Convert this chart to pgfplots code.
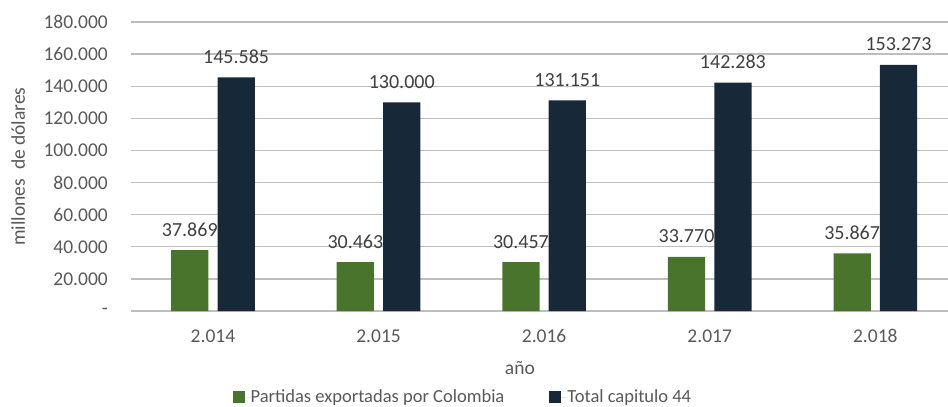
\documentclass[border=0pt]{standalone}
\usepackage{fontspec}
\setmainfont{Carlito}
\usepackage{pgfplots}
\pgfplotsset{compat=1.18}
\definecolor{cgreen}{RGB}{72,116,44}
\definecolor{cnavy}{RGB}{23,40,56}
\definecolor{cgrid}{RGB}{190,190,190}
\definecolor{ctext}{RGB}{89,89,89}
\definecolor{clabel}{RGB}{64,64,64}
\begin{document}
\begin{tikzpicture}
\path[use as bounding box] (0,0) rectangle (948pt,407pt);
\begin{axis}[
  at={(131pt,96pt)}, anchor=south west,
  scale only axis, width=817pt, height=289pt,
  xmin=-0.495, xmax=4.439, ymin=0, ymax=180000,
  scaled y ticks=false,
  /pgf/number format/assume math mode=true,
  font=\fontsize{19.5}{23}\selectfont,
  axis x line*=bottom, axis y line*=left,
  y axis line style={draw=none},
  x axis line style={draw=cgrid, line width=1.3pt},
  ymajorgrids, grid style={draw=cgrid, line width=1.3pt},
  major tick length=0pt,
  xtick={0,1,2,3,4},
  xticklabels={2.014,2.015,2.016,2.017,2.018},
  ytick={0,20000,40000,60000,80000,100000,120000,140000,160000,180000},
  yticklabels={-,20.000,40.000,60.000,80.000,100.000,120.000,140.000,160.000,180.000},
  xticklabel style={anchor=base, inner sep=0pt, yshift=-31pt, text=ctext},
  yticklabel style={anchor=east, inner sep=0pt, xshift=-23pt, text=ctext},
  xlabel={año}, ylabel={millones\ \ de dólares},
  xlabel style={at={(axis description cs:0.476,-0.197)}, anchor=center, text=ctext},
  ylabel style={at={(axis description cs:-0.138,0.5)}, anchor=center, text=ctext},
  legend style={at={(axis description cs:0.405,-0.2976)}, anchor=center, draw=none, fill=none,
    legend columns=2, text=ctext, font=\fontsize{18.5}{22}\selectfont,
    nodes={inner sep=0pt},
    /tikz/every even column/.append style={column sep=45pt}},
  legend image code/.code={\fill[#1] (0pt,-6pt) rectangle (12pt,6pt); \path (0pt,0pt) -- (18pt,0pt);},
  lbl/.style={draw=none, mark=none, forget plot,
    nodes near coords={\pgfmathprintnumber[fixed,precision=0,1000 sep={.}]{\pgfplotspointmeta}},
    nodes near coords style={anchor=base, inner sep=0pt, yshift=14pt, text=clabel,
    font=\fontsize{20}{24}\selectfont}},
]
\addplot[ybar, bar width=0.225, bar shift=-0.14, fill=cgreen, draw=none]
  coordinates {(0,37869) (1,30463) (2,30457) (3,33770) (4,35867)};
\addlegendentry{Partidas exportadas por Colombia}
\addplot[ybar, bar width=0.225, bar shift=0.14, fill=cnavy, draw=none]
  coordinates {(0,145585) (1,130000) (2,131151) (3,142283) (4,153273)};
\addlegendentry{Total capitulo 44}
\addplot[lbl] coordinates {(0.14,145585) (1.14,130000) (2.14,131151) (3.14,142283) (4.14,153273)};
\addplot[lbl] coordinates {(-0.14,37869) (0.86,30463) (1.86,30457) (2.86,33770) (3.86,35867)};
\end{axis}
\end{tikzpicture}
\end{document}
